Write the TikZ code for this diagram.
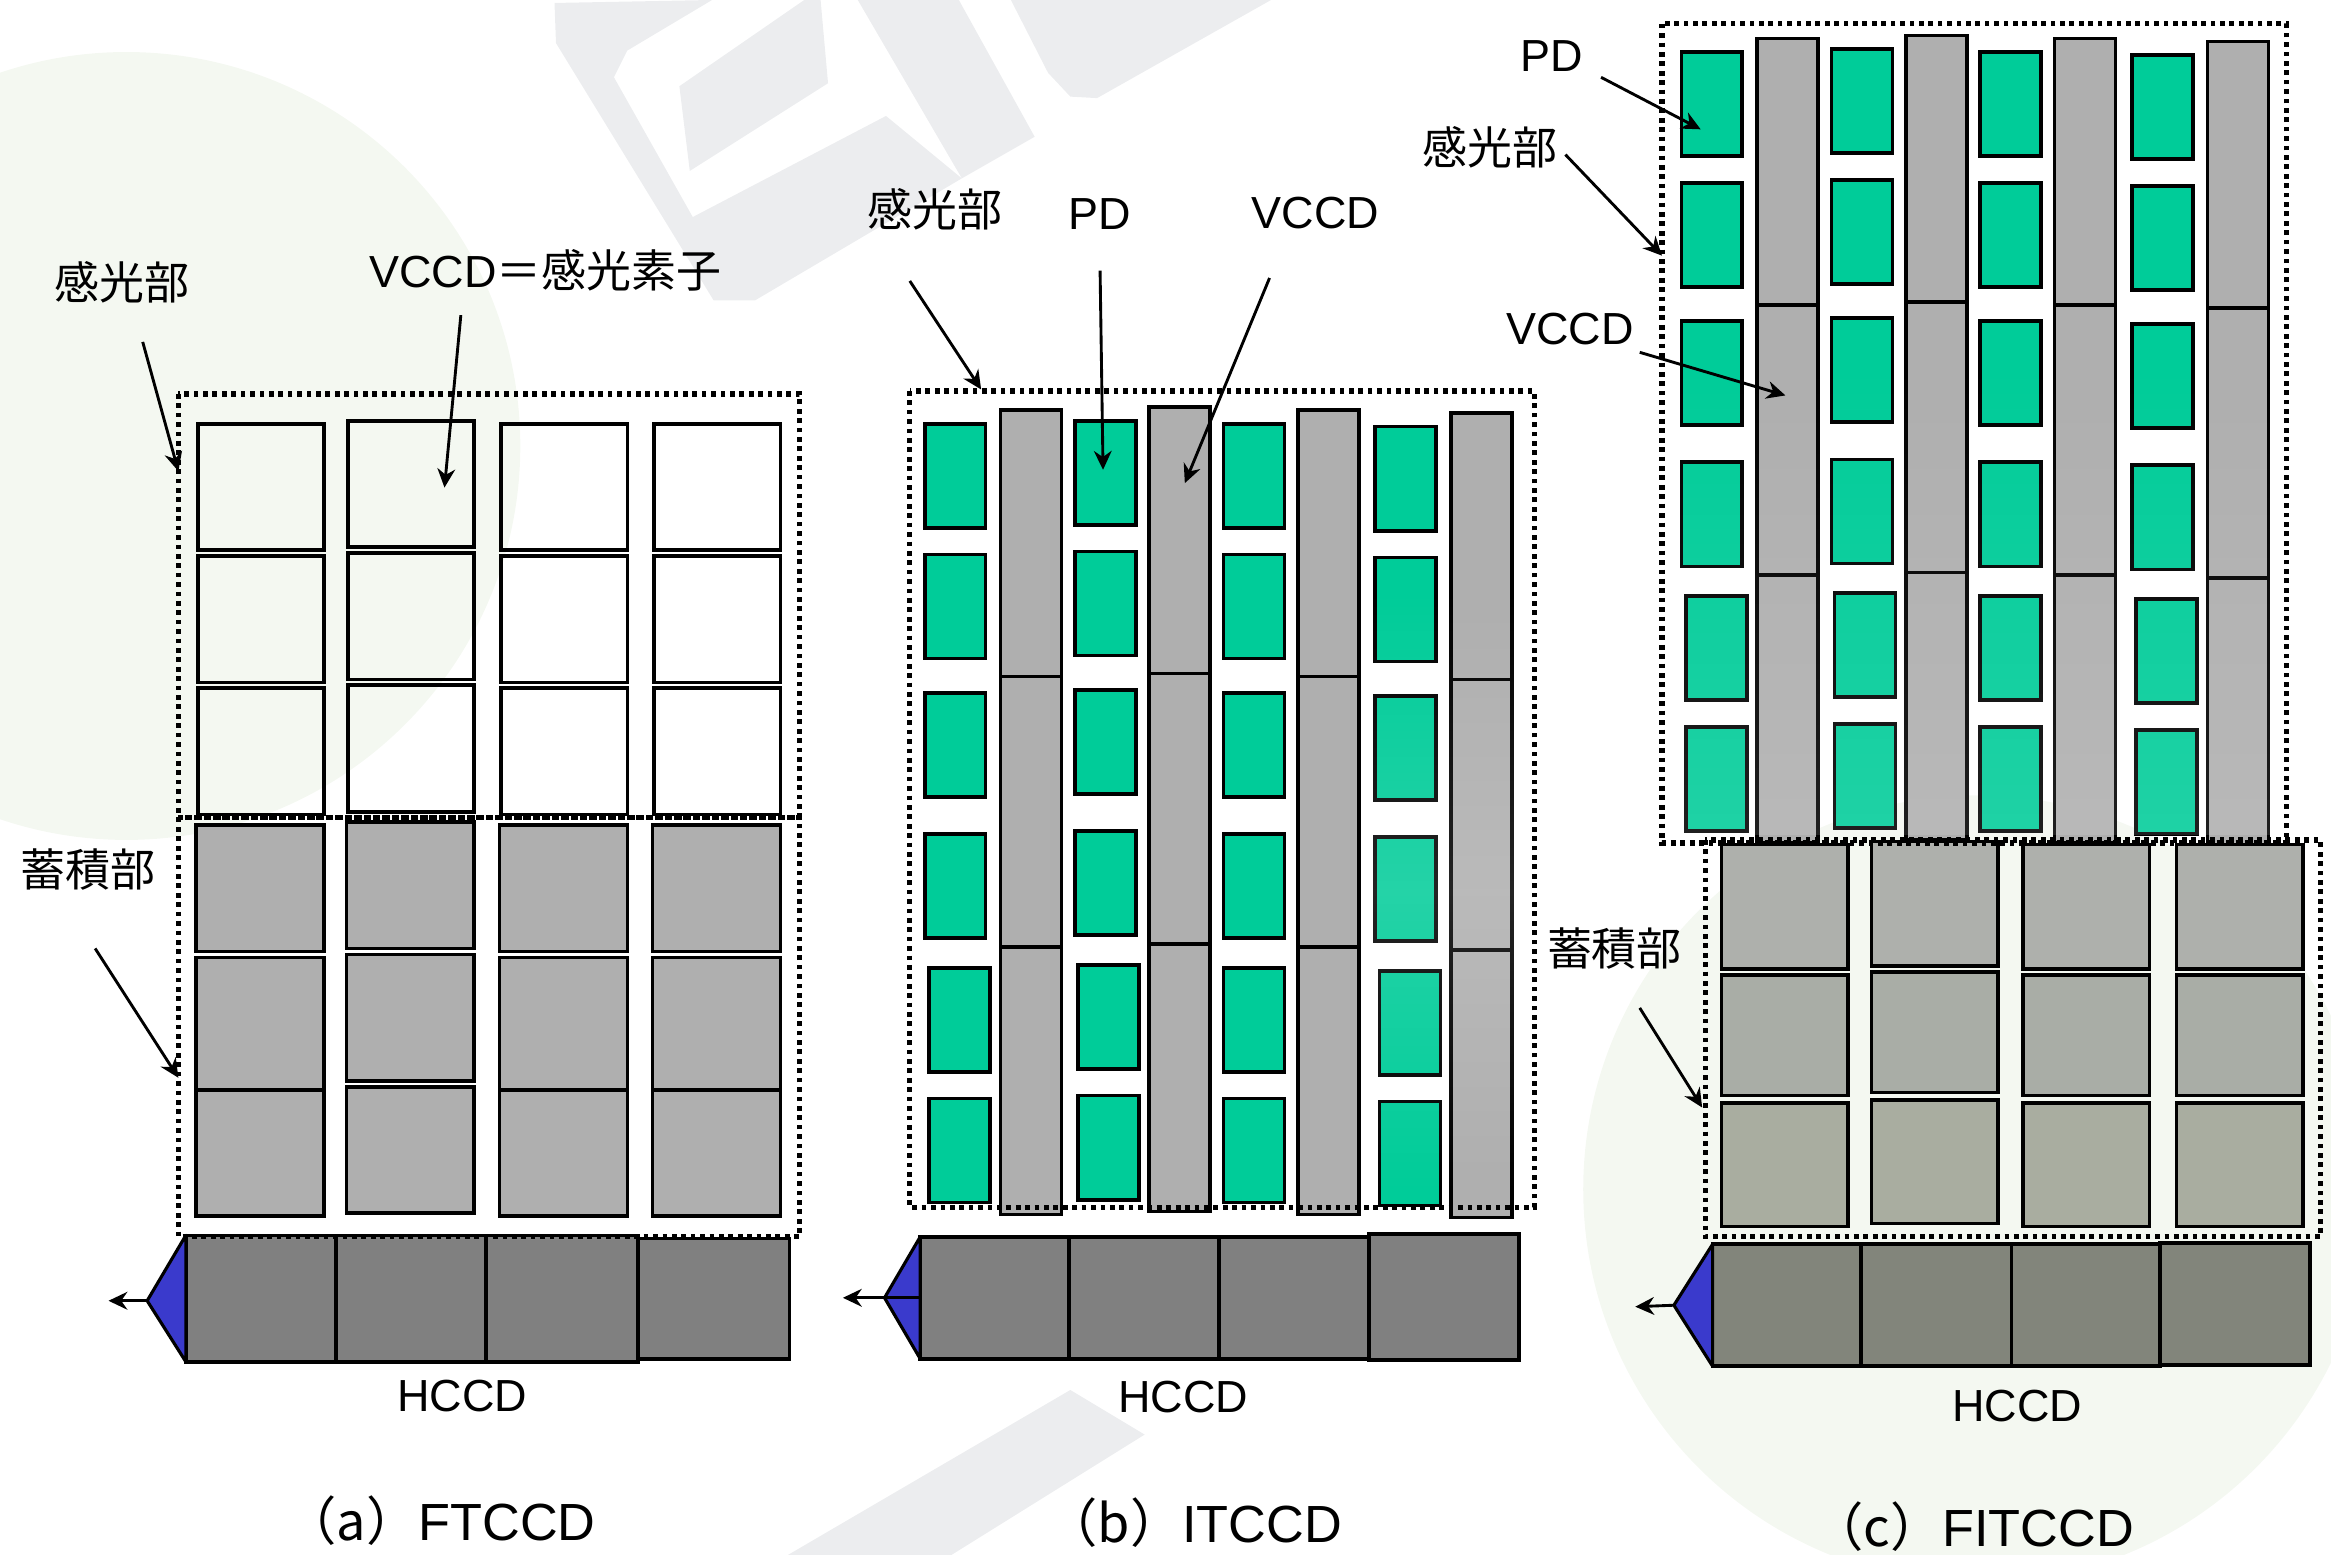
\documentclass[tikz,border=0pt]{standalone}
\usepackage{fontspec}
\setmainfont{Liberation Sans}
\newfontfamily\cjk{Noto Sans CJK JP}
\usetikzlibrary{arrows.meta,fadings}

\definecolor{pdgreen}{HTML}{00CC99}
\definecolor{vgray}{HTML}{AFAFAF}
\definecolor{hgray}{HTML}{808080}
\definecolor{outblue}{HTML}{3A3ACC}
\definecolor{tinthccd}{HTML}{82857B}
\definecolor{logogray}{HTML}{ECEDEF}
\definecolor{leafgreen}{HTML}{F4F8F1}

\tikzset{
    cell/.style={shape=rectangle,draw=black,line width=0.7pt,inner sep=0pt,outer sep=0pt},
    whitecell/.style={cell},
    storecell/.style={cell,fill=vgray},
    pdcell/.style={cell,fill=pdgreen},
    vcell/.style={cell,fill=vgray},
    hcell/.style={cell,fill=hgray},
    tintcell/.style={cell,fill=#1},
    tinthcell/.style={cell,fill=tinthccd},
    zone/.style={draw=black,line width=1pt,dash pattern=on 0.9pt off 0.9pt},
    pointer/.style={draw=black,line width=0.55pt,-{Stealth[length=3.6pt,width=3.4pt]}},
    outtip/.style={draw=black,fill=outblue,line width=0.6pt,line join=round},
    label/.style={inner sep=0pt,font=\fontsize{8.6}{10}\selectfont},
    cjklabel/.style={inner sep=0pt,font=\cjk\fontsize{8.6}{10}\selectfont},
    caption/.style={inner sep=0pt,font=\fontsize{10}{12}\selectfont},
    wmark/.style={draw=none,fill=logogray}
}

% top left corner, then width and height, all in picture units
\newcommand{\cellbox}[6]{
    \node[#1,minimum width={(#5)*0.01cm},minimum height={(#6)*0.01cm}] (#2) at ({(#3)+(#5)/2},{(#4)+(#6)/2}) {};
}
% photodiodes and vertical registers
\newcommand{\pdarray}[3]{
    \foreach \x/\dy/\dx [count=\c] in {622/0/3, 723/-2/2, 823/0/0, 925/2/3} {
        \foreach \y/\k [count=\r] in {285/0, 373/0, 466/0, 561/0, 651/1, 739/1} {
            \cellbox{pdcell}{pd#1\c\r}{\x+#2+\k*\dx}{\y+\dy+#3}{41}{70}
        }
    }
    \foreach \x/\dy [count=\c] in {673/0, 773/-2, 873/0, 976/2} {
        \foreach \y/\h [count=\r] in {276/179, 455/182, 637/180} {
            \cellbox{vcell}{vccd#1\c\r}{\x+#2}{\y+\dy+#3}{41}{\h}
        }
    }
}

\begin{document}
\begin{tikzpicture}[x=0.01cm,y=-0.01cm]
    \useasboundingbox (0,0) rectangle (1568,1046);

    % watermark
    \fill[leafgreen] (85,300) circle (265);
    \fill[leafgreen] (1330,800) circle (265);
    \fill[wmark] (373,2) -- (479,0) -- (422,34) -- (413,52) -- (466,146) -- (596,78) -- (647,120) -- (508,202) -- (480,202) -- (374,29) -- cycle;
    \fill[wmark] (541,0) -- (552,0) -- (557,56) -- (464,115) -- (457,58) -- cycle;
    \fill[wmark] (577,0) -- (645,0) -- (696,92) -- (647,120) -- cycle;
    \fill[wmark] (680,0) -- (855,0) -- (738,66) -- (720,65) -- (705,49) -- cycle;
    \fill[wmark] (530,1046) -- (720,935) -- (770,965) -- (640,1046) -- cycle;

    % (a) FTCCD
    \foreach \x/\dy [count=\c] in {133/0, 234/-2, 337/0, 440/0} {
        \foreach \y [count=\r] in {285, 374, 463} {
            \cellbox{whitecell}{senseA\c\r}{\x}{\y+\dy}{85}{85}
        }
        \foreach \y/\h/\k [count=\r] in {555/85/0, 644/89/1, 733/85/0} {
            \cellbox{storecell}{storeA\c\r}{\x-1}{\y+\dy}{86}{\h+\k*\dy*2}
        }
    }
    \foreach \x/\y/\w/\h [count=\c] in {125/831/101/85, 226/831/101/85, 327/831/102/85, 429/833/102/81} {
        \cellbox{hcell}{hccdA\c}{\x}{\y}{\w}{\h}
    }
    \draw[zone] (120,265) rectangle (538,550);
    \draw[zone] (120,550) rectangle (538,832);
    \coordinate (tipA) at (99,875);
    \coordinate (outA) at (73,875);
    \draw[outtip] (hccdA1.north west) -- (tipA) -- (hccdA1.south west) -- cycle;
    \draw[pointer] (tipA) -- (outA);

    \node[cjklabel] (senseAlabel) at (82,190) {感光部};
    \node[label] (vccdAlabel) at (367,182) {VCCD{\cjk＝感光素子}};
    \node[cjklabel] (storeAlabel) at (59,585) {蓄積部};
    \node[label] (hccdAlabel) at (311,939) {HCCD};
    \node[caption] (capA) at (296,1023) {{\cjk（a）}FTCCD};

    \coordinate (p1) at (96,230);   \coordinate (q1) at (120,317);
    \coordinate (p2) at (310,212);  \coordinate (q2) at (299,328);
    \coordinate (p3) at (64,638);   \coordinate (q3) at (120,725);
    \draw[pointer] (p1) -- (q1);
    \draw[pointer] (p2) -- (q2);
    \draw[pointer] (p3) -- (q3);

    % (b) ITCCD
    \pdarray{B}{0}{0}
    \foreach \x/\y/\w/\h [count=\c] in {619/832/100/82, 719/832/101/82, 820/832/101/82, 921/830/101/85} {
        \cellbox{hcell}{hccdB\c}{\x}{\y}{\w}{\h}
    }
    \fill[white,opacity=0.14,path fading=north] (920,400) rectangle (1022,600);
    \fill[white,opacity=0.14,path fading=south] (920,600) rectangle (1022,800);
    \draw[zone] (612,263) rectangle (1032,812);
    \coordinate (tipB) at (595,873);
    \coordinate (outB) at (567,873);
    \draw[outtip] (hccdB1.north west) -- (tipB) -- (hccdB1.south west) -- cycle;
    \draw[outtip] (tipB) -- (hccdB1.west);
    \draw[pointer] (tipB) -- (outB);

    \node[cjklabel] (senseBlabel) at (629,141) {感光部};
    \node[label] (pdBlabel) at (740,144) {PD};
    \node[label] (vccdBlabel) at (885,143) {VCCD};
    \node[label] (hccdBlabel) at (796,940) {HCCD};
    \node[caption] (capB) at (803,1024) {{\cjk（b）}ITCCD};

    \coordinate (p4) at (612,189);  \coordinate (q4) at (660,262);
    \coordinate (p5) at (740,182);  \coordinate (q5) at (742,316);
    \coordinate (p6) at (854,187);  \coordinate (q6) at (797,325);
    \draw[pointer] (p4) -- (q4);
    \draw[pointer] (p5) -- (q5);
    \draw[pointer] (p6) -- (q6);

    % (c) FITCCD
    \pdarray{C}{509}{-250}
    \fill[white,opacity=0.12,path fading=north] (1125,250) rectangle (1530,562);
    \foreach \x/\dy [count=\c] in {1158/0, 1259/-2, 1361/0, 1464/0} {
        \foreach \y/\h/\tint [count=\r] in {568/84/AEB0AC, 656/81/A9ADA6, 742/83/A9ADA0} {
            \definecolor{rowtint}{HTML}{\tint}
            \cellbox{tintcell=rowtint}{storeC\c\r}{\x}{\y+\dy}{85}{\h}
        }
    }
    \foreach \x/\y/\w/\h [count=\c] in {1152/837/100/82, 1252/837/101/82, 1353/837/100/82, 1453/836/101/82} {
        \cellbox{tinthcell}{hccdC\c}{\x}{\y}{\w}{\h}
    }
    \draw[zone] (1118,16) rectangle (1538,567);
    \draw[zone] (1147,565) rectangle (1561,832);
    \coordinate (tipC) at (1126,878);
    \coordinate (outC) at (1100,879);
    \draw[outtip] (hccdC1.north west) -- (tipC) -- (hccdC1.south west) -- cycle;
    \draw[pointer] (tipC) -- (outC);

    \node[label] (pdClabel) at (1044,38) {PD};
    \node[cjklabel] (senseClabel) at (1002,99) {感光部};
    \node[label] (vccdClabel) at (1056,221) {VCCD};
    \node[cjklabel] (storeClabel) at (1086,638) {蓄積部};
    \node[label] (hccdClabel) at (1357,946) {HCCD};
    \node[caption] (capC) at (1327,1027) {{\cjk（c）}FITCCD};

    \coordinate (p7) at (1077,52);   \coordinate (q7) at (1144,87);
    \coordinate (p8) at (1053,104);  \coordinate (q8) at (1118,172);
    \coordinate (p9) at (1103,237);  \coordinate (q9) at (1201,266);
    \coordinate (p10) at (1103,678); \coordinate (q10) at (1145,745);
    \draw[pointer] (p7) -- (q7);
    \draw[pointer] (p8) -- (q8);
    \draw[pointer] (p9) -- (q9);
    \draw[pointer] (p10) -- (q10);
\end{tikzpicture}
\end{document}
